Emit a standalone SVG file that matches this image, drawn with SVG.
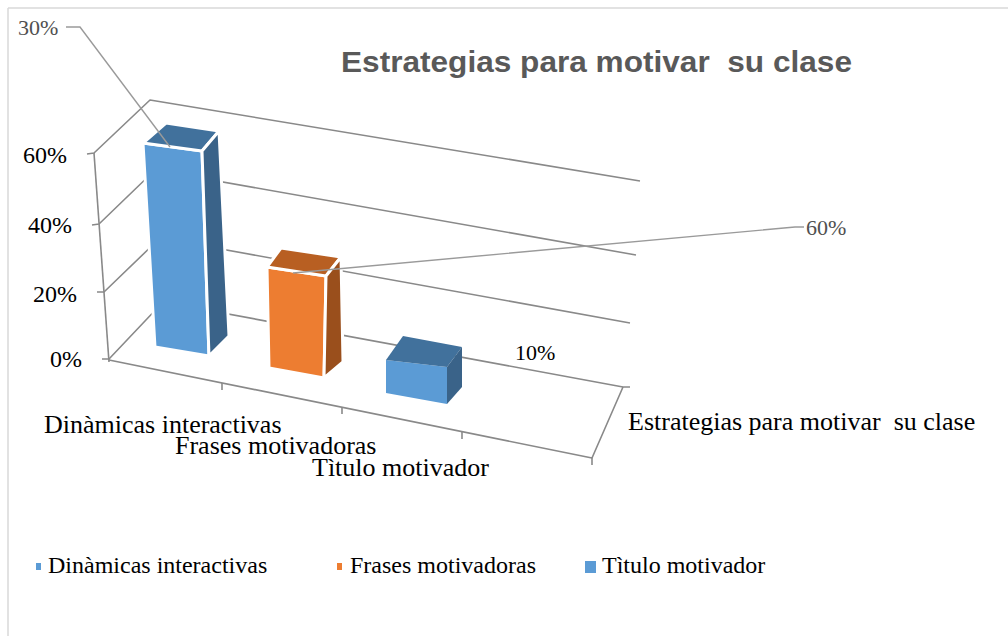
<svg xmlns="http://www.w3.org/2000/svg" width="1008" height="636" viewBox="0 0 1008 636">
<style>
.frame{stroke:#D9D9D9;stroke-width:1.5;fill:none}
.grid{stroke:#898989;stroke-width:1.6;fill:none;stroke-linejoin:round}
.lead{stroke:#9a9a9a;stroke-width:1.4;fill:none}
.ser{font-family:'Liberation Serif','DejaVu Serif',serif;fill:#000}
.ax{font-size:24px;text-anchor:end}
.cat{font-size:26px}
.leg{font-size:24px}
.dl{font-size:22px;fill:#505050}
.title{font-family:'Liberation Sans',Arial,sans-serif;font-weight:bold;font-size:30px;fill:#595959}
.wb{stroke:#fff;stroke-width:3;stroke-linejoin:round}
</style>
<rect width="1008" height="636" fill="#fff"/>
<g id="frame">
<line class="frame" x1="8" y1="8" x2="1008" y2="8"/>
<line class="frame" x1="8" y1="8" x2="8" y2="636"/>
</g>
<g id="title"><text class="title" x="341" y="72" textLength="511" lengthAdjust="spacingAndGlyphs">Estrategias para motivar&#160; su clase</text></g>
<g id="connectors">
<polyline class="grid" points="87,154 94,153 150,100 640,181"/>
<polyline class="grid" points="92,225 99,224 155,170 636,255"/>
<polyline class="grid" points="97,292 104,292 160,238 630,323"/>
<polyline class="grid" points="102,359 109,359 163,302 623,387 630,387"/>
<line class="grid" x1="94" y1="153" x2="109" y2="362"/>
<polyline class="grid" points="109,360 592,458 623,387"/>
<line class="grid" x1="592" y1="458" x2="592" y2="465"/>
<line class="grid" x1="222" y1="383" x2="222" y2="390"/>
<line class="grid" x1="342" y1="407" x2="342" y2="414"/>
<line class="grid" x1="462" y1="432" x2="462" y2="439"/>
</g>
<g id="bar-dinamicas">
<polygon class="wb" fill="#5B9BD5" points="143,143 202,151 209,356 155,347"/>
<polygon class="wb" fill="#41719C" points="143,143 166,123 219,131 202,151"/>
<polygon class="wb" fill="#3A6389" points="202,151 219,131 229,336 209,356"/>
</g>
<g id="bar-frases">
<polygon class="wb" fill="#ED7D31" points="267,267 326,276 324,378 269,368"/>
<polygon class="wb" fill="#B85F22" points="267,267 281,248 341,257 326,276"/>
<polygon class="wb" fill="#9A4F1C" points="326,276 341,257 343,362 324,378"/>
</g>
<g id="bar-titulo">
<polygon fill="#5B9BD5" points="386,360 447,367 447,404 386,393"/>
<polygon fill="#41719C" points="386,360 403,336 462,347 447,367"/>
<polygon fill="#3A6389" points="447,367 462,347 462,387 447,404"/>
</g>
<g id="leaders">
<polyline class="lead" points="66,27 80,27 170,147"/>
<polyline class="lead" points="293,273 795,227 804,227"/>
</g>
<g id="data-labels">
<text class="ser dl" x="18" y="35">30%</text>
<text class="ser dl" x="806" y="235">60%</text>
<text class="ser" x="515" y="360" font-size="22">10%</text>
</g>
<g id="axis-labels">
<text class="ser ax" x="67" y="163">60%</text>
<text class="ser ax" x="72" y="233">40%</text>
<text class="ser ax" x="77" y="302">20%</text>
<text class="ser ax" x="82" y="367">0%</text>
<text class="ser cat" x="44" y="433">Dinàmicas interactivas</text>
<text class="ser cat" x="175" y="454">Frases motivadoras</text>
<text class="ser cat" x="312" y="476">Tìtulo motivador</text>
<text class="ser cat" x="628" y="430">Estrategias para motivar&#160; su clase</text>
</g>
<g id="legend">
<rect x="36" y="563" width="5" height="7" fill="#5B9BD5"/>
<text class="ser leg" x="48" y="573">Dinàmicas interactivas</text>
<rect x="337" y="563" width="5" height="7" fill="#ED7D31"/>
<text class="ser leg" x="350" y="573">Frases motivadoras</text>
<rect x="585" y="561" width="11" height="12" fill="#5B9BD5"/>
<text class="ser leg" x="602" y="573">Tìtulo motivador</text>
</g>
</svg>
